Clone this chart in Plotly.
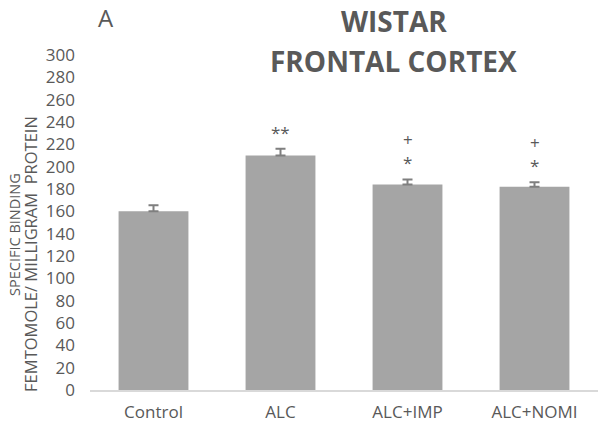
import plotly.graph_objects as go

categories = ["Control", "ALC", "ALC+IMP", "ALC+NOMI"]
values = [160, 210, 184, 182]
errors = [5.5, 6, 4.5, 4]
sig_top = ["", "", "+", "+"]
sig_bottom = ["", "**", "*", "*"]
y_ticks = list(range(0, 301, 20))

GRAY = "#595959"
FONT = "Open Sans"

fig = go.Figure()
fig.add_trace(go.Bar(
    x=categories, y=values,
    marker=dict(color="#a5a5a5", line=dict(width=0)),
    width=0.55,
    error_y=dict(type="data", array=errors, arrayminus=[0] * len(errors), symmetric=False,
                 visible=True, color="#7f7f7f", thickness=2, width=5),
))

for c, v, e, t, b in zip(categories, values, errors, sig_top, sig_bottom):
    if b:
        fig.add_annotation(x=c, y=v + e + 15, text=b, showarrow=False, yanchor="middle",
                           font=dict(size=17, color=GRAY, family=FONT))
    if t:
        fig.add_annotation(x=c, y=v + e + 36, text=t, showarrow=False, yanchor="middle",
                           font=dict(size=17, color=GRAY, family=FONT))

fig.add_annotation(xref="paper", yref="paper", x=0.598, y=1.101, text="<b>WISTAR</b>",
                   showarrow=False, yanchor="middle", font=dict(size=28, color=GRAY, family=FONT))
fig.add_annotation(xref="paper", yref="paper", x=0.598, y=0.982, text="<b>FRONTAL CORTEX</b>",
                   showarrow=False, yanchor="middle", font=dict(size=28, color=GRAY, family=FONT))
fig.add_annotation(xref="paper", yref="paper", x=0.032, y=1.168, text="A",
                   showarrow=False, xanchor="center", yanchor="top",
                   font=dict(size=24, color=GRAY, family=FONT))

# y-axis title, two rotated lines
fig.add_annotation(xref="paper", yref="paper", x=-0.1476, y=0.463, text="SPECIFIC BINDING",
                   textangle=-90, showarrow=False, xanchor="center", yanchor="middle",
                   font=dict(size=14.5, color=GRAY, family=FONT))
fig.add_annotation(xref="paper", yref="paper", x=-0.116, y=0.4065,
                   text="FEMTOMOLE/ MILLIGRAM  PROTEIN",
                   textangle=-90, showarrow=False, xanchor="center", yanchor="middle",
                   font=dict(size=16.5, color=GRAY, family=FONT))

fig.update_layout(
    width=600, height=425,
    margin=dict(l=90, r=2, t=55, b=33),
    paper_bgcolor="white", plot_bgcolor="white",
    showlegend=False,
    font=dict(family=FONT, color=GRAY),
    xaxis=dict(showline=True, linecolor="#d9d9d9", linewidth=2,
               tickfont=dict(size=17, color=GRAY), showgrid=False, ticks="",
               ticklabelstandoff=6),
    yaxis=dict(range=[0, 300], tickvals=y_ticks, showgrid=False, zeroline=False, showline=False,
               tickfont=dict(size=17, color=GRAY), ticks="", ticklabelstandoff=14),
)

fig.write_html("out.html", config={"displayModeBar": False},
               post_script="document.body.style.margin='0';")
